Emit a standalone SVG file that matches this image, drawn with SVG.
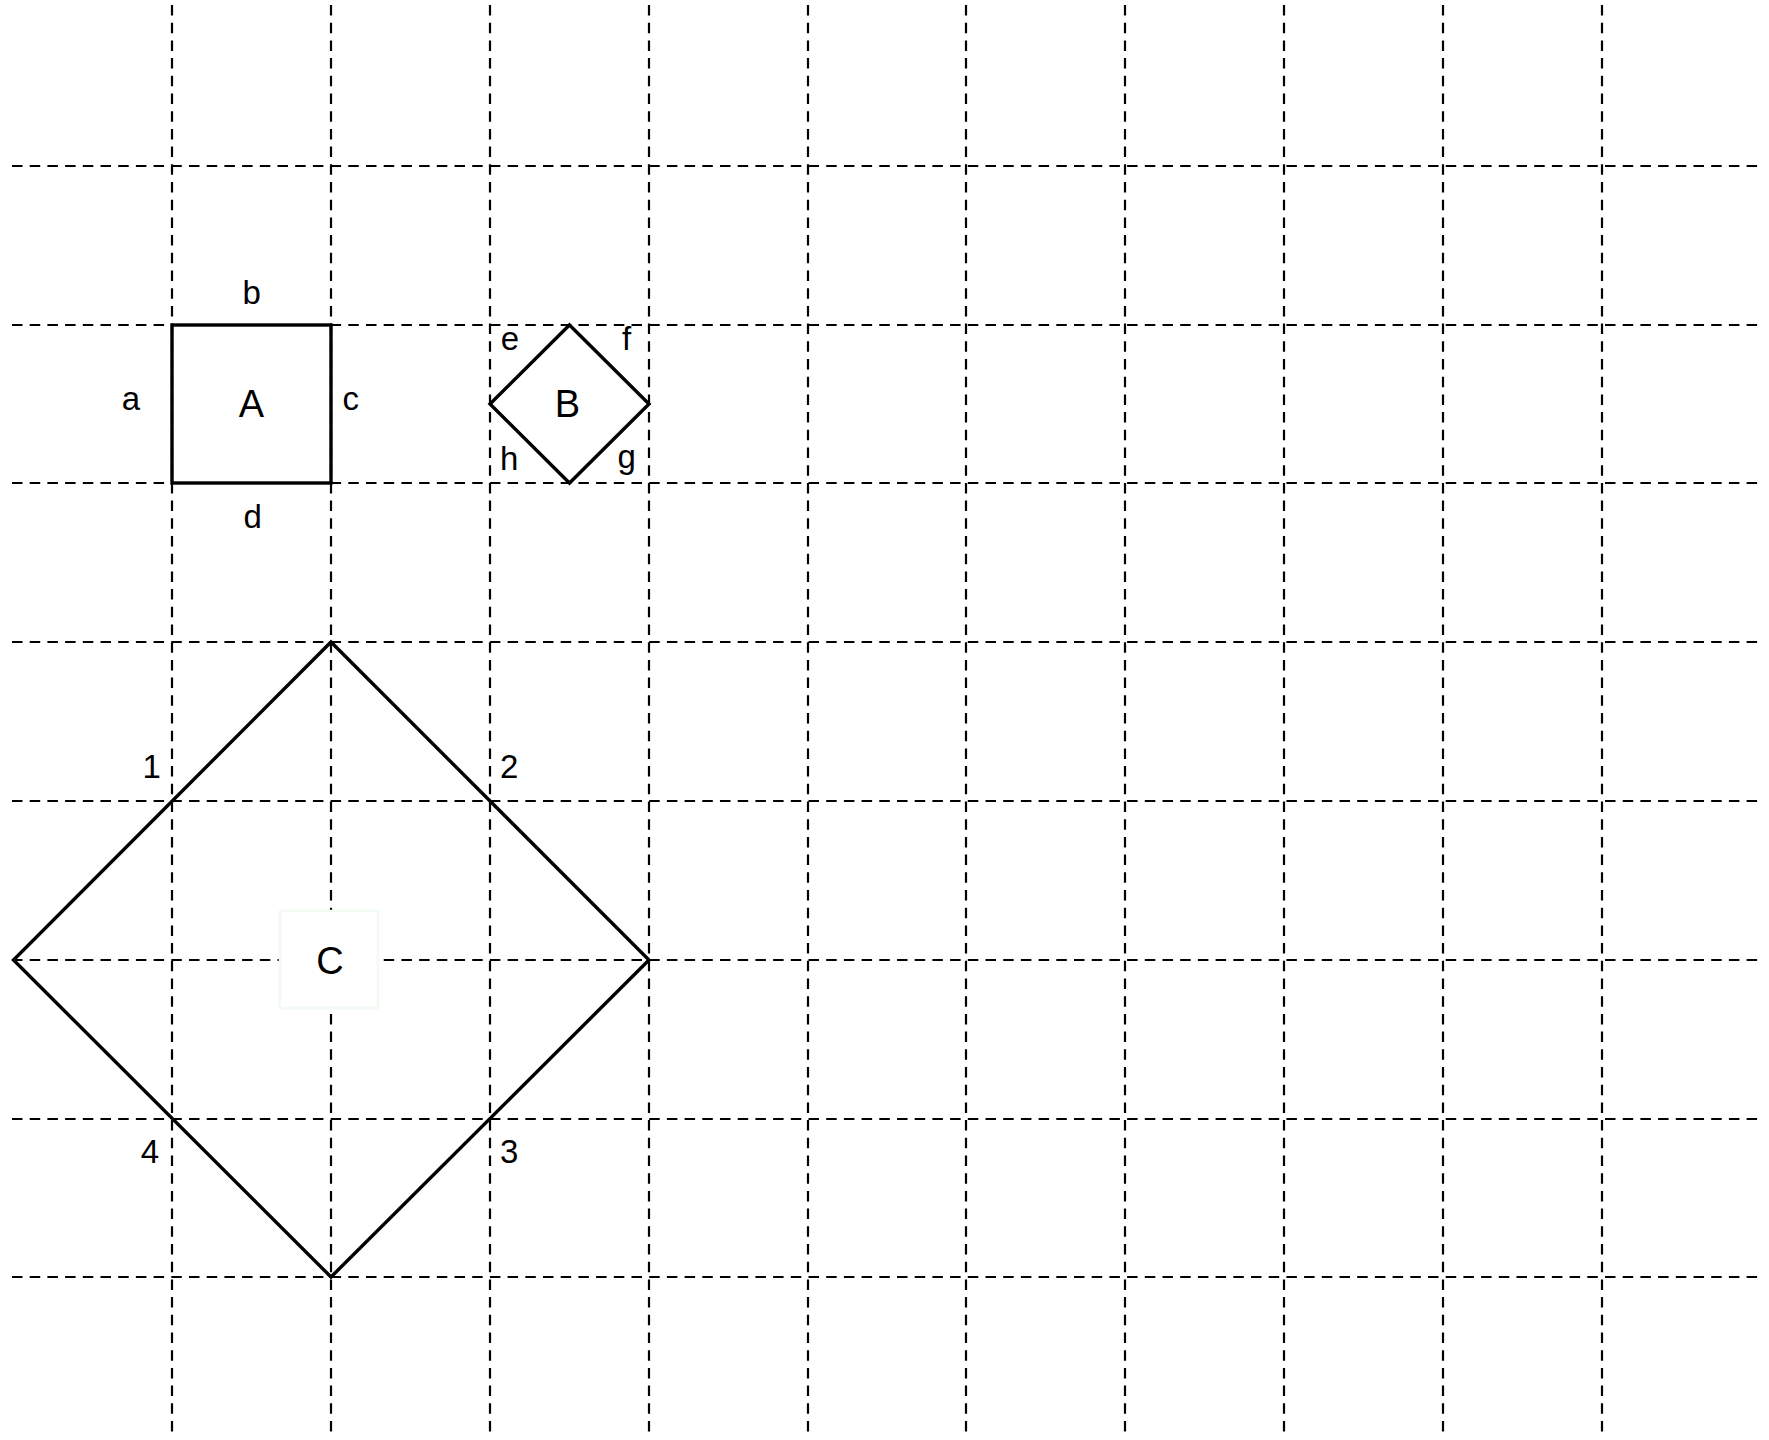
<svg xmlns="http://www.w3.org/2000/svg" width="1769" height="1440" viewBox="0 0 1769 1440">
<style>
.g line{stroke:#000;stroke-width:2.2;stroke-dasharray:10.5 7.2;fill:none}
.s{fill:none;stroke:#000;stroke-width:3.4}
.t{font-family:"Liberation Sans",Arial,sans-serif;fill:#000;text-anchor:middle}
.n{font-size:38px}
.e{font-size:33px}
</style>
<rect width="1769" height="1440" fill="#fff"/>
<g id="grid" class="g">
<line x1="12" y1="166" x2="1760" y2="166"/>
<line x1="12" y1="325" x2="1760" y2="325"/>
<line x1="12" y1="483" x2="1760" y2="483"/>
<line x1="12" y1="642" x2="1760" y2="642"/>
<line x1="12" y1="801" x2="1760" y2="801"/>
<line x1="12" y1="960" x2="1760" y2="960"/>
<line x1="12" y1="1119" x2="1760" y2="1119"/>
<line x1="12" y1="1277" x2="1760" y2="1277"/>
<line x1="172" y1="5" x2="172" y2="1436"/>
<line x1="331" y1="5" x2="331" y2="1436"/>
<line x1="490" y1="5" x2="490" y2="1436"/>
<line x1="649" y1="5" x2="649" y2="1436"/>
<line x1="808" y1="5" x2="808" y2="1436"/>
<line x1="966" y1="5" x2="966" y2="1436"/>
<line x1="1125" y1="5" x2="1125" y2="1436"/>
<line x1="1284" y1="5" x2="1284" y2="1436"/>
<line x1="1443" y1="5" x2="1443" y2="1436"/>
<line x1="1602" y1="5" x2="1602" y2="1436"/>
</g>
<g id="connectors"></g>
<g id="node-A">
<rect class="s" x="172" y="325" width="159" height="158"/>
<text class="t n" x="251.5" y="417">A</text>
</g>
<g id="labels-A">
<text class="t e" x="131" y="410">a</text>
<text class="t e" x="251.7" y="304">b</text>
<text class="t e" x="350.7" y="410">c</text>
<text class="t e" x="252.7" y="528">d</text>
</g>
<g id="node-B">
<polygon class="s" points="569.5,325 649,404 569.5,483 490,404"/>
<text class="t n" x="567.5" y="417">B</text>
</g>
<g id="labels-B">
<text class="t e" x="510" y="350">e</text>
<text class="t e" x="626.7" y="350">f</text>
<text class="t e" x="626.7" y="468">g</text>
<text class="t e" x="509.3" y="470">h</text>
</g>
<g id="node-C">
<polygon class="s" points="331,642 649,960 331,1277 13.5,960"/>
<rect x="280" y="911" width="98" height="97" fill="#fff" stroke="#f1fbf1" stroke-width="2.5"/>
<text class="t n" x="330" y="974">C</text>
</g>
<g id="labels-C">
<text class="t e" x="151.7" y="778">1</text>
<text class="t e" x="509.3" y="778">2</text>
<text class="t e" x="509.3" y="1163">3</text>
<text class="t e" x="150" y="1163">4</text>
</g>
</svg>
